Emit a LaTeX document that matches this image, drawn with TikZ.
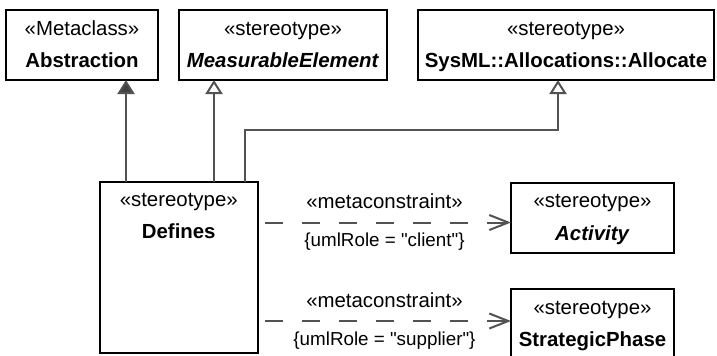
\documentclass[tikz,border=0pt]{standalone}
\usepackage{fontspec}
\setmainfont{Liberation Sans}[Ligatures=TeXOff]
\usetikzlibrary{arrows.meta,positioning}

\newcommand{\stereo}[2]{\strut«#1»\\\strut#2}

\begin{document}
\begin{tikzpicture}[
        font=\fontsize{10.2}{16.25}\selectfont,
        box/.style={draw=black, line width=1pt, align=center, minimum height=35pt, inner xsep=1pt, inner ysep=0pt, outer sep=0pt, fill=white},
        gen/.style={draw=black!68, line width=1pt, -{Triangle[open, width=8.5pt, length=7pt]}},
        genfill/.style={draw=black!68, line width=1pt, -{Triangle[width=8.5pt, length=7pt, fill=black!75]}},
        dep/.style={draw=black!68, line width=1pt, dash pattern=on 9pt off 9.5pt, dash phase=15pt, -{Straight Barb[length=9.5pt, width=7.5pt]}},
        stlabel/.style={anchor=base, inner sep=0pt},
        rolelabel/.style={anchor=base, inner sep=0pt, font=\fontsize{9.4}{12}\selectfont}
    ]
        \useasboundingbox (0,0) rectangle (358.5pt,-177.5pt);

        % upper row
        \node[box, minimum width=76pt, anchor=north west] (abs) at (3pt,-5pt) {\stereo{Metaclass}{\textbf{Abstraction}}};
        \node[box, minimum width=104pt, right=10.5pt of abs] (meas) {\stereo{stereotype}{\textbf{\textit{MeasurableElement}}}};
        \node[box, minimum width=148pt, right=15.5pt of meas] (sys) {\stereo{stereotype}{\textbf{SysML::Allocations::Allocate}}};

        % lower part
        \node[box, minimum width=79.25pt, minimum height=85.5pt, anchor=north west,
            label={[name=deftitle, anchor=north, align=center, inner sep=0.5pt]north:\stereo{stereotype}{\textbf{Defines}}}] (defines) at (49.75pt,-91pt) {};
        \node[box, minimum width=81.5pt, anchor=north west] (act) at (255.5pt,-91.25pt) {\stereo{stereotype}{\textbf{\textit{Activity}}}};
        \node[box, minimum width=81.5pt, below=18.25pt of act] (strat) {\stereo{stereotype}{\textbf{StrategicPhase}}};

        % generalizations
        \draw[genfill] ([xshift=13.25pt]defines.north west) -- ([xshift=13.25pt]defines.north west |- abs.south);
        \draw[gen] ([xshift=57.25pt]defines.north west) -- ([xshift=57.25pt]defines.north west |- meas.south);
        \draw[gen] ([xshift=72.75pt]defines.north west) |- ([xshift=-4pt,yshift=-25pt]sys.south) -- ([xshift=-4pt]sys.south);

        % metaconstraints
        \draw[dep] ([yshift=-2.5pt]act.west -| defines.east) -- node[stlabel, yshift=7pt] (mc1) {«metaconstraint»} node[rolelabel, yshift=-12pt] (role1) {\{umlRole = "client"\}} ([yshift=-2.5pt]act.west);
        \draw[dep] ([yshift=1.5pt]strat.west -| defines.east) -- node[stlabel, yshift=7pt] (mc2) {«metaconstraint»} node[rolelabel, yshift=-12pt] (role2) {\{umlRole = "supplier"\}} ([yshift=1.5pt]strat.west);
    \end{tikzpicture}
\end{document}
